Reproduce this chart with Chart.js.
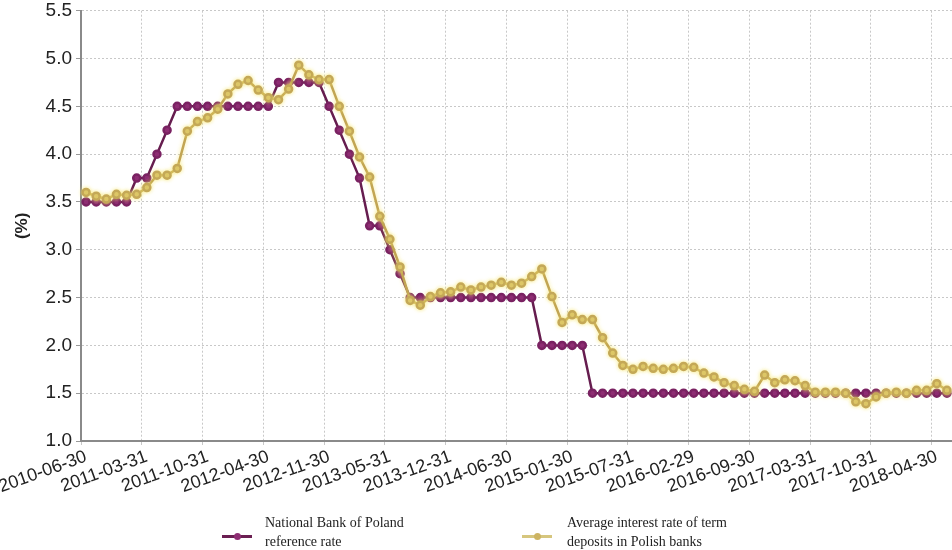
<!DOCTYPE html>
<html>
<head>
<title>NBP reference rate vs term deposits</title>
<script src="https://cdn.jsdelivr.net/npm/chart.js@4.4.1/dist/chart.umd.min.js"></script>
<style>
  body { margin: 0; background: #fff; }
  .wrap { position: relative; width: 952px; height: 550px; overflow: hidden; }
  .legend-item { position: absolute; top: 514px; font-family: 'Liberation Serif', 'Times New Roman', serif;
    font-size: 14px; line-height: 18.5px; color: #222; }
  .mark { position: absolute; width: 30px; height: 3px; top: 21px; }
  .mark i { position: absolute; left: 12px; top: -2px; width: 7px; height: 7px; border-radius: 50%; }
  .legend-item span.txt { position: absolute; white-space: nowrap; }
</style>
</head>
<body>
<div class="wrap">
  <canvas id="rates" width="952" height="550"></canvas>
  <div class="legend-item" style="left:222px">
    <div class="mark" style="background:#6b1f52"><i style="background:#8e2d73"></i></div>
    <span class="txt" style="left:43px">National Bank of Poland<br>reference rate</span>
  </div>
  <div class="legend-item" style="left:522px">
    <div class="mark" style="background:#d6c67e"><i style="background:#cdb463"></i></div>
    <span class="txt" style="left:45px">Average interest rate of term<br>deposits in Polish banks</span>
  </div>
</div>

<script>
// labels shown on the x axis, one every 6 points
const tickLabels = ['2010-06-30', '2011-03-31', '2011-10-31', '2012-04-30', '2012-11-30',
  '2013-05-31', '2013-12-31', '2014-06-30', '2015-01-30', '2015-07-31',
  '2016-02-29', '2016-09-30', '2017-03-31', '2017-10-31', '2018-04-30'];
const pointsPerTick = 6;

// National Bank of Poland reference rate (%)
const refRate = [
  3.5, 3.5, 3.5, 3.5, 3.5, 3.75, 3.75, 4.0, 4.25, 4.5,
  4.5, 4.5, 4.5, 4.5, 4.5, 4.5, 4.5, 4.5, 4.5, 4.75,
  4.75, 4.75, 4.75, 4.75, 4.5, 4.25, 4.0, 3.75, 3.25, 3.25,
  3.0, 2.75, 2.5, 2.5, 2.5, 2.5, 2.5, 2.5, 2.5, 2.5,
  2.5, 2.5, 2.5, 2.5, 2.5, 2.0, 2.0, 2.0, 2.0, 2.0,
  1.5, 1.5, 1.5, 1.5, 1.5, 1.5, 1.5, 1.5, 1.5, 1.5,
  1.5, 1.5, 1.5, 1.5, 1.5, 1.5, 1.5, 1.5, 1.5, 1.5,
  1.5, 1.5, 1.5, 1.5, 1.5, 1.5, 1.5, 1.5, 1.5, 1.5,
  1.5, 1.5, 1.5, 1.5, 1.5, 1.5
];

// Average interest rate of term deposits in Polish banks (%)
const depositRate = [
  3.60, 3.56, 3.53, 3.58, 3.57, 3.58, 3.65, 3.78, 3.78, 3.85,
  4.24, 4.34, 4.38, 4.47, 4.63, 4.73, 4.77, 4.67, 4.59, 4.57,
  4.68, 4.93, 4.83, 4.78, 4.78, 4.50, 4.24, 3.97, 3.76, 3.35,
  3.11, 2.82, 2.47, 2.42, 2.51, 2.55, 2.56, 2.61, 2.58, 2.61,
  2.63, 2.66, 2.63, 2.65, 2.72, 2.80, 2.51, 2.24, 2.32, 2.27,
  2.27, 2.08, 1.92, 1.79, 1.75, 1.78, 1.76, 1.75, 1.76, 1.78,
  1.77, 1.71, 1.67, 1.61, 1.58, 1.54, 1.52, 1.69, 1.61, 1.64,
  1.63, 1.58, 1.51, 1.51, 1.51, 1.50, 1.41, 1.39, 1.46, 1.50,
  1.51, 1.50, 1.53, 1.53, 1.60, 1.53
];

const labels = refRate.map((v, i) => i % pointsPerTick === 0 ? tickLabels[i / pointsPerTick] : '');
const gridColor = ctx => (labels[ctx.index] ? '#c8c8c8' : 'rgba(0,0,0,0)');

// soft yellow halo round the deposit line, like in the original picture
const glow = {
  id: 'glow',
  beforeDatasetDraw(chart, args) {
    if (args.index !== 1) return;
    chart.ctx.save();
    chart.ctx.shadowColor = 'rgba(245, 228, 110, 0.75)';
    chart.ctx.shadowBlur = 4;
  },
  afterDatasetDraw(chart, args) {
    if (args.index === 1) chart.ctx.restore();
  }
};

new Chart(document.getElementById('rates'), {
  type: 'line',
  data: {
    labels: labels,
    datasets: [{
      label: 'National Bank of Poland reference rate',
      data: refRate,
      borderColor: '#661d4f',
      backgroundColor: '#8e2d73',
      pointBackgroundColor: '#8e2d73',
      pointBorderColor: '#7a2262',
      borderWidth: 2.5,
      pointRadius: 3.5,
      tension: 0,
      order: 2
    }, {
      label: 'Average interest rate of term deposits in Polish banks',
      data: depositRate,
      borderColor: '#c2a553',
      backgroundColor: '#cdb463',
      pointBackgroundColor: '#cdb463',
      pointBorderColor: '#c4a857',
      borderWidth: 2.5,
      pointRadius: 3.5,
      tension: 0,
      order: 1
    }]
  },
  options: {
    responsive: false,
    animation: false,
    layout: { autoPadding: false, padding: { left: 0, right: 0, top: 0, bottom: 49 } },
    plugins: { legend: { display: false }, tooltip: { enabled: false } },
    scales: {
      x: {
        offset: true,
        grid: { offset: true, color: gridColor, tickColor: gridColor, tickLength: 4 },
        border: { color: '#8a8a8a', width: 2, dash: [2, 2] },
        ticks: {
          autoSkip: false, minRotation: 20, maxRotation: 20, padding: 1,
          color: '#222', font: { family: 'Liberation Sans, Arial, sans-serif', size: 18 }
        },
        afterFit(scale) { scale.height = 60; scale.paddingLeft = 0; scale.paddingRight = 0; }
      },
      y: {
        min: 1.0, max: 5.5,
        grid: { color: '#c8c8c8', tickColor: '#999', tickLength: 5 },
        border: { color: '#8a8a8a', width: 2, dash: [2, 2] },
        ticks: {
          stepSize: 0.5, padding: 4, color: '#222',
          font: { family: 'Liberation Sans, Arial, sans-serif', size: 19 },
          callback: v => v.toFixed(1)
        },
        title: {
          display: true, text: '(%)', color: '#222', padding: { top: 12, bottom: 4 },
          font: { family: 'Liberation Sans, Arial, sans-serif', size: 17, weight: 'bold' }
        },
        afterFit(scale) { scale.width = 81; scale.paddingTop = 10.7; }
      }
    }
  },
  plugins: [glow]
});
</script>
</body>
</html>
